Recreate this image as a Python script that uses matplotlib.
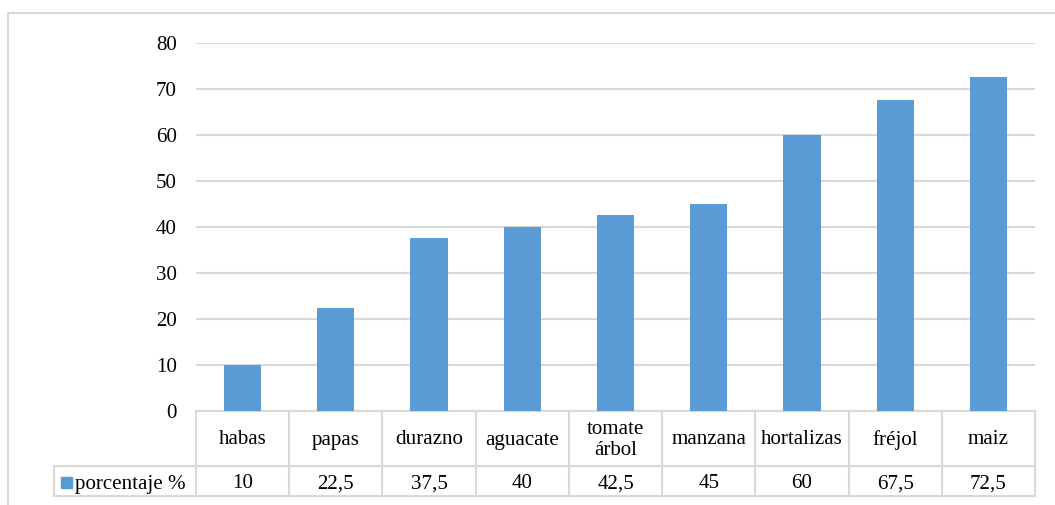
import matplotlib
matplotlib.use("Agg")
import matplotlib.pyplot as plt
from matplotlib.lines import Line2D
from matplotlib.patches import Rectangle

categories = ["habas", "papas", "durazno", "aguacate", "tomate\nárbol",
              "manzana", "hortalizas", "fréjol", "maiz"]
values = [10, 22.5, 37.5, 40, 42.5, 45, 60, 67.5, 72.5]
value_labels = ["10", "22,5", "37,5", "40", "42,5", "45", "60", "67,5", "72,5"]
series_name = "porcentaje %"
yticks = [0, 10, 20, 30, 40, 50, 60, 70, 80]

W, H = 1055, 505
plt.rcParams['font.family'] = ['Liberation Serif', 'DejaVu Serif']
FS = 15.1
BAR = "#5B9BD5"
GRID = "#D9D9D9"

fig = plt.figure(figsize=(W / 100, H / 100), dpi=100)
ax_l, ax_r, ax_b, ax_t = 196, 1035, 411, 43
ax = fig.add_axes([ax_l / W, 1 - ax_b / H, (ax_r - ax_l) / W, (ax_b - ax_t) / H])

x = list(range(len(categories)))
ax.bar(x, values, width=0.4, color=BAR, zorder=3)
ax.set_xlim(-0.5, len(categories) - 0.5)
ax.set_ylim(0, 80)
ax.set_yticks(yticks)
ax.set_yticklabels([str(t) for t in yticks], fontsize=FS)
ax.tick_params(axis='y', length=0, pad=14)
ax.set_xticks([])
for s in ax.spines.values():
    s.set_visible(False)
ax.yaxis.grid(True, color=GRID, linewidth=1.5, zorder=0)
ax.set_axisbelow(True)

# outer frame: top and left edges (figure pixel coords)
def fx(xp):
    return xp / W

def fy(yp):
    return 1 - yp / H

fig.add_artist(Line2D([fx(8), fx(8), 1.0], [0.0, fy(13), fy(13)],
                      transform=fig.transFigure, color=GRID, linewidth=1.5))

# data table
axh = ax_b - ax_t
def ay(yp):
    return (ax_b - yp) / axh

trans = ax.get_xaxis_transform()
n = len(categories)
row1, row2 = 466, 496
lc = dict(color=GRID, linewidth=1.5, clip_on=False, transform=trans)
unit = (ax_r - ax_l) / n
leg_left_x = -0.5 + (54 - ax_l) / unit

ax.add_line(Line2D([-0.5, n - 0.5], [ay(ax_b), ay(ax_b)], **lc))
ax.add_line(Line2D([leg_left_x, n - 0.5], [ay(row1), ay(row1)], **lc))
ax.add_line(Line2D([leg_left_x, n - 0.5], [ay(row2), ay(row2)], **lc))
ax.add_line(Line2D([leg_left_x, leg_left_x], [ay(row1), ay(row2)], **lc))
for i in range(n + 1):
    ax.add_line(Line2D([i - 0.5, i - 0.5], [ay(ax_b), ay(row2)], **lc))

for i, (c, v) in enumerate(zip(categories, value_labels)):
    ax.text(i, ay((ax_b + row1) / 2 + 1.5), c, transform=trans, ha='center',
            va='center', fontsize=FS, linespacing=1.1)
    ax.text(i, ay((row1 + row2) / 2 + 3), v, transform=trans, ha='center',
            va='center', fontsize=FS)

# legend key in table
kx0 = -0.5 + (61 - ax_l) / unit
kw = 11 / unit
ax.add_patch(Rectangle((kx0, ay(488)), kw, ay(477) - ay(488), transform=trans,
                       color=BAR, clip_on=False))
ax.text(-0.5 + (75 - ax_l) / unit, ay((row1 + row2) / 2 + 3), series_name,
        transform=trans, ha='left', va='center', fontsize=FS)

fig.savefig("out.png", dpi=100)
